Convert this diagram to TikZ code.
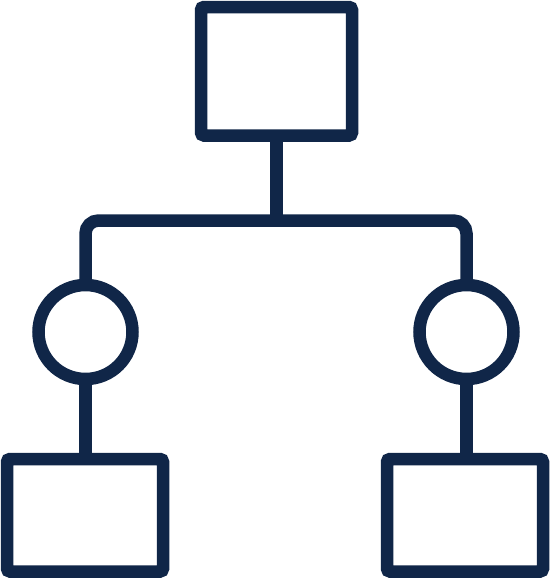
\documentclass[tikz,border=0pt]{standalone}
\usetikzlibrary{positioning}
\definecolor{navy}{RGB}{16,38,72}
\begin{document}
\begin{tikzpicture}[x=1pt,y=-1pt,
  ln/.style={draw=navy,line width=12.5pt},
  boxn/.style={ln,rectangle,rounded corners=3pt,inner sep=0pt,fill=white},
  circn/.style={ln,circle,inner sep=0pt,minimum size=94pt,fill=white}]
\useasboundingbox (0,0) rectangle (550,579);
\node[boxn,minimum width=151pt,minimum height=128.5pt] (top) at (276.5,71.25) {};
\node[circn] (lc) at (85.5,332) {};
\node[circn] (rc) at (466.5,332) {};
\node[boxn,minimum width=156pt,minimum height=112.5pt] (lb) at (85,515.25) {};
\node[boxn,minimum width=156pt,minimum height=112.5pt] (rb) at (465,515.25) {};
\coordinate (bus) at (276.5,220.5);
\draw[ln] (top.south) -- (bus);
\draw[ln,rounded corners=13pt] (lc.north) |- (bus) -| (rc.north);
\draw[ln] (lc.south) -- (lc.south |- lb.north);
\draw[ln] (rc.south) -- (rc.south |- rb.north);
\end{tikzpicture}
\end{document}
